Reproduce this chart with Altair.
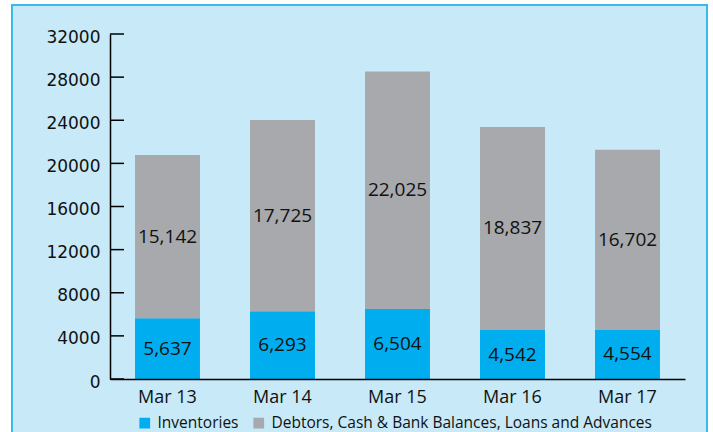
import altair as alt
import pandas as pd

categories = ["Mar 13", "Mar 14", "Mar 15", "Mar 16", "Mar 17"]
inventories = [5637, 6293, 6504, 4542, 4554]
debtors = [15142, 17725, 22025, 18837, 16702]
series_names = ["Inventories", "Debtors, Cash & Bank Balances, Loans and Advances"]
y_ticks = [0, 4000, 8000, 12000, 16000, 20000, 24000, 28000, 32000]

BLUE = "#00aeef"
GRAY = "#a7a9ac"
BG = "#c7e9f8"
BORDER = "#3bb9ea"

rows = []
for c, inv, deb in zip(categories, inventories, debtors):
    rows.append({"cat": c, "series": series_names[0], "value": inv, "ord": 0})
    rows.append({"cat": c, "series": series_names[1], "value": deb, "ord": 1})
df = pd.DataFrame(rows)

x_enc = alt.X("cat:N", sort=categories, title=None,
              scale=alt.Scale(paddingInner=0.435, paddingOuter=0.2175),
              axis=alt.Axis(labelAngle=0, ticks=False, domainColor="black", domainWidth=1.5,
                            labelFont="Open Sans", labelFontSize=18, labelColor="#111",
                            labelPadding=9, grid=False, zindex=2))
y_scale = alt.Scale(domain=[0, 32000], nice=False)

background = alt.Chart(alt.Data(values=[{}])).mark_rect(
    fill=BG, stroke=BORDER, strokeWidth=2
).encode(x=alt.value(-98), x2=alt.value(597), y=alt.value(-29), y2=alt.value(430))

stacked = alt.Chart(df).transform_stack(
    stack="value", groupby=["cat"], as_=["y0", "y1"], sort=[alt.SortField("ord", order="ascending")]
).transform_calculate(mid="(datum.y0 + datum.y1) / 2")

bars = stacked.mark_bar().encode(
    x=x_enc,
    y=alt.Y("y0:Q", scale=y_scale, title=None,
            axis=alt.Axis(values=y_ticks, format="d", ticks=False, domainColor="black", domainWidth=1.5,
                          labelFont="DejaVu Sans", labelFontSize=17, labelColor="#111",
                          labelPadding=10, labelOffset=3, grid=False, zindex=2)),
    y2="y1:Q",
    color=alt.Color("series:N", scale=alt.Scale(domain=series_names, range=[BLUE, GRAY]),
                    legend=alt.Legend(orient="none", legendX=27, legendY=381, direction="horizontal",
                                      title=None, symbolType="square", symbolSize=115,
                                      symbolStrokeWidth=0, labelFont="Open Sans", labelFontSize=15.5,
                                      labelColor="#111", labelOffset=5, columnPadding=12,
                                      labelLimit=600, zindex=2)),
)

labels = stacked.mark_text(font="Open Sans", fontSize=19, color="#111", baseline="middle").encode(
    x=alt.X("cat:N", sort=categories),
    y=alt.Y("mid:Q", scale=y_scale),
    text=alt.Text("value:Q", format=","),
)

tick_df = pd.DataFrame({"t": y_ticks})
ticks = alt.Chart(tick_df).mark_rule(color="black", strokeWidth=1.5).encode(
    y=alt.Y("t:Q", scale=y_scale), x=alt.value(0), x2=alt.value(14)
)

chart = alt.layer(background, bars, labels, ticks).properties(
    width=575, height=345,
    padding={"left": 110, "top": 34, "right": 28, "bottom": 53},
    autosize=alt.AutoSizeParams(type="none"),
    background="white",
).configure_view(stroke=None, fill=None)

chart.save("out.html", embed_options={"renderer": "svg", "actions": False})
